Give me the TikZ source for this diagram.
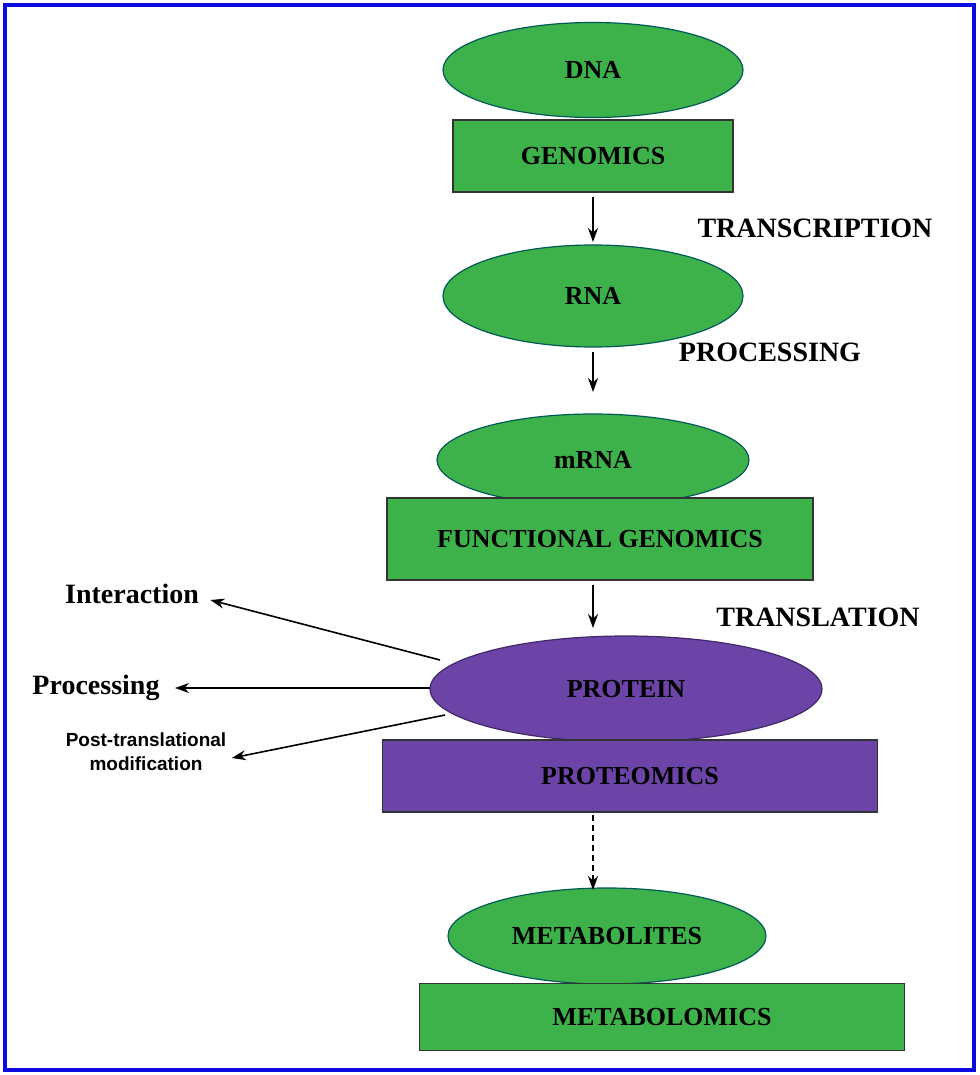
\documentclass[tikz,border=0pt]{standalone}
\usepackage{fontspec}
\setmainfont{Liberation Serif}
\newfontfamily\labelsans{Liberation Sans}
\usetikzlibrary{arrows.meta,shapes.geometric}
\definecolor{omicsgreen}{RGB}{62,178,74}
\definecolor{omicspurple}{RGB}{108,68,168}
\definecolor{framblue}{RGB}{10,10,225}
\begin{document}
\begin{tikzpicture}[
                x=1pt, y=-1pt,
                OmicsOval/.style={ellipse, draw=teal!70!black, line width=1.2pt, fill=omicsgreen, inner sep=0pt, font=\bfseries\fontsize{26}{26}\selectfont},
                OmicsBox/.style={rectangle, draw=black!80, line width=1.2pt, fill=omicsgreen, inner sep=0pt, font=\bfseries\fontsize{26}{26}\selectfont},
                StepLabel/.style={font=\bfseries\fontsize{28}{28}\selectfont},
                SideLabel/.style={font=\bfseries\fontsize{28}{28}\selectfont},
                StepArrow/.style={-{Stealth[length=14pt, width=10pt]}, line width=1.6pt},
            ]
            \useasboundingbox (0,0) rectangle (979,1075);
            \draw [framblue, line width=4pt] (5,5) rectangle (974,1070);
            % top part
            \node [OmicsOval, minimum width=300, minimum height=95] (dna) at (593,70) {DNA};
            \node [OmicsBox, minimum width=280, minimum height=72] (genomics) at (593,156) {GENOMICS};
            \node [OmicsOval, minimum width=300, minimum height=102] (rna) at (593,296) {RNA};
            \node [OmicsOval, minimum width=312, minimum height=92] (mrna) at (593,460) {mRNA};
            \node [OmicsBox, minimum width=426, minimum height=82] (fgenomics) at (600,539) {FUNCTIONAL GENOMICS};
            % protein
            \node [OmicsOval, fill=omicspurple, draw=omicspurple!60!black, minimum width=392, minimum height=106] (protein) at (626,689) {PROTEIN};
            \node [OmicsBox, fill=omicspurple, minimum width=495, minimum height=72] (proteomics) at (630,776) {PROTEOMICS};
            % bottom
            \node [OmicsOval, minimum width=318, minimum height=96] (metabolites) at (607,936) {METABOLITES};
            \node [OmicsBox, minimum width=485, minimum height=67] (metabolomics) at (662,1017) {METABOLOMICS};
            % step labels
            \node [StepLabel] (transcription) at (815,228) {TRANSCRIPTION};
            \node [StepLabel] (processingstep) at (770,352) {PROCESSING};
            \node [StepLabel] (translation) at (818,617) {TRANSLATION};
            \node [SideLabel] (interaction) at (132,594) {Interaction};
            \node [SideLabel] (processing) at (96,688) {Processing};
            \node [font=\labelsans\bfseries\fontsize{19}{24}\selectfont, align=center] (ptm) at (146,752) {Post-translational\\modification};
            % arrows
            \draw [StepArrow] (593,197) -- (593,242);
            \draw [StepArrow] (593,352) -- (593,392);
            \draw [StepArrow] (593,585) -- (593,628);
            \draw [StepArrow, dash pattern=on 6pt off 4pt] (593,815) -- (593,890);
            \draw [StepArrow] (440,660) -- ([xshift=8pt,yshift=-6pt]interaction.east);
            \draw [StepArrow] (430,688) -- ([xshift=12pt]processing.east);
            \draw [StepArrow] (445,715) -- ([xshift=2pt,yshift=-6pt]ptm.east);
        \end{tikzpicture}
\end{document}
